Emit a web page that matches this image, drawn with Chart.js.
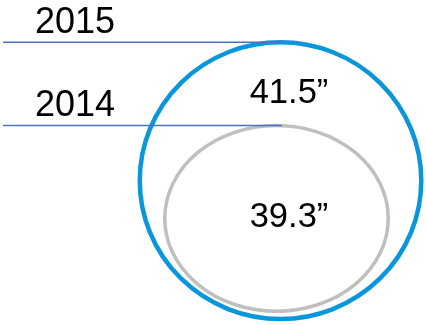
<!DOCTYPE html>
<html>
<head>
<meta charset="utf-8">
<script src="https://cdn.jsdelivr.net/npm/chart.js@4/dist/chart.umd.min.js"></script>
<style>
  html, body { margin: 0; padding: 0; background: #fff; }
  canvas { display: block; }
</style>
</head>
<body>
<canvas id="sizes" width="426" height="325"></canvas>
<script>
// average screen size by year, inches
const years = ['2015', '2014'];
const sizes = [41.5, 39.3];
const sizeLabels = ['41.5\u201D', '39.3\u201D'];

const axisMin = 34.187;
const axisMax = 42.617;

const ringColors = ['#0a96da', '#bfbfbf'];
const ringWidths = [4.5, 3.5];
const ringThickness = [286, 227];
const ringInset = [0, 7.75];
const ringShift = [1.5, -2.5];
const labelOffsets = [60.75, 8.6]; // from top / from centre

// draws each bar as an ellipse inscribed in it, plus leader lines and texts
const rings = {
  id: 'rings',
  afterDatasetsDraw(chart) {
    const ctx = chart.ctx;
    const tops = [];
    chart.data.datasets.forEach((ds, i) => {
      const bar = chart.getDatasetMeta(i).data[0];
      const props = bar.getProps(['x', 'y', 'base', 'width'], true);
      const x = props.x + ds.ringShift;
      const { y, base, width } = props;
      const lw = ds.ringWidth;
      const bottom = base - ds.ringInset;
      const cy = (y + bottom) / 2;
      ctx.save();
      ctx.beginPath();
      ctx.ellipse(x, cy, (width - lw) / 2, (bottom - y) / 2, 0, 0, Math.PI * 2);
      ctx.strokeStyle = ds.ringColor;
      ctx.lineWidth = lw;
      ctx.stroke();
      ctx.restore();
      tops.push({ x: props.x, y, cy, ds });
    });

    ctx.save();
    tops.forEach(t => {
      // leader line
      ctx.beginPath();
      ctx.moveTo(3, t.y);
      ctx.lineTo(t.x + 3, t.y);
      ctx.strokeStyle = '#4a74bd';
      ctx.lineWidth = 1.5;
      ctx.stroke();

      ctx.fillStyle = '#000';
      ctx.font = '36px "Liberation Sans", Arial, sans-serif';
      ctx.textAlign = 'left';
      ctx.textBaseline = 'alphabetic';
      ctx.fillText(t.ds.label, 35, t.y - 9.5);

      ctx.font = '34.5px "Liberation Sans", Arial, sans-serif';
      ctx.textAlign = 'center';
      const ly = t.ds.labelFromTop ? t.y + t.ds.labelOffset : t.cy + t.ds.labelOffset;
      ctx.fillText(t.ds.sizeLabel, t.x + 10, ly);
    });
    ctx.restore();
  }
};

new Chart(document.getElementById('sizes'), {
  type: 'bar',
  data: {
    labels: ['size'],
    datasets: years.map((yr, i) => ({
      label: yr,
      data: [sizes[i]],
      base: axisMin,
      backgroundColor: 'rgba(0,0,0,0)',
      borderWidth: 0,
      grouped: false,
      barThickness: ringThickness[i],
      ringColor: ringColors[i],
      ringWidth: ringWidths[i],
      ringInset: ringInset[i],
      ringShift: ringShift[i],
      sizeLabel: sizeLabels[i],
      labelOffset: labelOffsets[i],
      labelFromTop: i === 0
    }))
  },
  options: {
    responsive: false,
    animation: false,
    layout: { padding: { left: 132, right: 0, top: 0, bottom: 6 } },
    plugins: {
      legend: { display: false },
      tooltip: { enabled: false }
    },
    scales: {
      x: { display: false },
      y: { display: false, min: axisMin, max: axisMax }
    }
  },
  plugins: [rings]
});
</script>
</body>
</html>
